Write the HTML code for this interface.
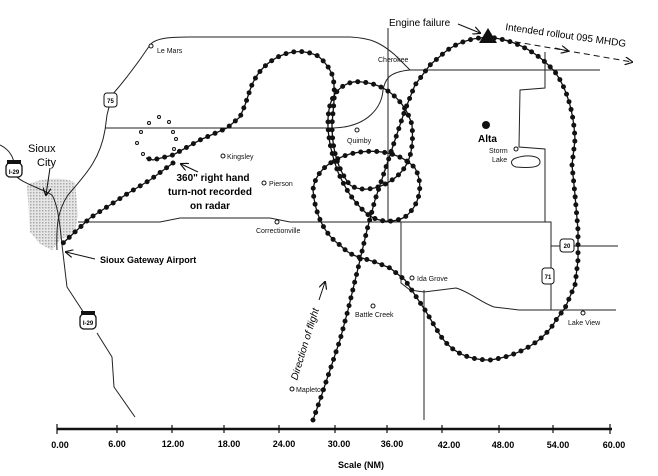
<!DOCTYPE html>
<html><head><meta charset="utf-8"><style>
html,body{margin:0;padding:0;background:#fff;}
svg{display:block;font-family:"Liberation Sans",sans-serif;}
.r{fill:none;stroke:#222;stroke-width:1;}
.p{fill:none;stroke:#111;stroke-width:1.3;}
.d{fill:none;stroke:#111;stroke-width:5;stroke-linecap:round;stroke-dasharray:0 8;}
.t{font-size:7px;fill:#111;}
.c{fill:#fff;stroke:#111;stroke-width:1;}
.b{font-weight:bold;}
</style></head><body>
<svg width="658" height="476" viewBox="0 0 658 476">
<defs>
<pattern id="g" width="3" height="3" patternUnits="userSpaceOnUse"><rect width="3" height="3" fill="#e6e6e6"/><rect width="1.5" height="1.5" fill="#aaa"/></pattern>
<marker id="a" markerWidth="8" markerHeight="8" refX="7" refY="4" orient="auto"><path d="M0,0 L8,4 L0,8" fill="none" stroke="#111" stroke-width="1.2"/></marker>
<path id="f1" fill="none" d="M313,420 L320,400 L330,370 L340,340 L348,310 L354,285 L360,260 L367,230 L375,200 L385,170 L395,140 L405,110 L415,85 L430,65 L445,52 C460,40 480,36 495,38 C520,42 540,55 555,72 C568,90 574,115 575,140 L572,165 L575,195 L578,230 L578,260 L575,285 L565,308 L556,320 C545,340 520,356 490,360 C465,360 450,350 440,335 L425,310 L415,295 L405,280 L390,268 L375,262 L362,258 C350,255 345,250 340,245 C325,235 315,215 313,190 C315,172 330,160 350,154 C375,148 400,152 415,168 C424,185 420,205 405,217 C392,224 375,222 365,212 C352,200 345,188 338,172 C330,150 325,125 330,105 C335,88 348,80 362,82 C385,84 405,100 412,125 C414,150 410,168 392,180 C378,190 360,192 350,185 C338,170 332,150 332,125 C333,108 336,95 333,77 C330,68 325,62 318,56 C305,50 293,50 280,56 C265,63 255,75 250,90 L245,105 L240,117 L227,128 L200,140 L173,155 L153,160 L146,158"/>
<path id="f2" fill="none" d="M173,163 L150,180 L130,192 L110,205 L90,218 L75,232 L62,244"/>
</defs>
<path d="M27,185 C40,178 60,176 75,182 L78,215 L75,232 L60,240 L52,250 L40,244 L30,232 Z" fill="url(#g)"/>
<path class="r" d="M150,45 C155,38 170,37 190,37 L350,37 C370,38 380,42 395,55 L408,68 L410,70 L600,70"/>
<path class="r" d="M150,45 C140,60 125,80 112,95 L107,115 L105,130 C100,160 85,175 68,195 C58,210 56,225 57,250"/>
<path class="r" d="M105,128 L333,128 C370,127 382,105 383,90 C385,80 388,72 410,70"/>
<path class="r" d="M388,28 L388,222"/>
<path class="r" d="M0,145 C10,150 14,158 14,165 M16,176 C22,183 40,188 52,195 C58,205 60,225 62,245 L67,287 L84,313 M97,333 L112,357 L114,387 L135,417"/>
<path class="r" d="M78,222 L160,222 L180,218 L270,218 L290,222 L540,222 L545,222"/>
<path class="r" d="M545,52 L545,88 L520,90 L519,147 L545,149 L545,222 L551,222 L551,310"/>
<path class="r" d="M401,222 L401,283 L410,290 L424,292 L456,288 C470,292 480,302 494,307 L519,310 L616,310"/>
<path class="r" d="M424,290 L424,420"/>
<path class="r" d="M551,246 L618,246"/>
<path class="r" d="M516,158 C528,154 540,156 540,162 C540,168 528,168 516,167 C510,165 510,160 516,158 Z"/>
<use href="#f1" class="p"/><use href="#f1" class="d"/>
<use href="#f2" class="p"/><use href="#f2" class="d"/>
<g class="c"><circle cx="149" cy="123" r="1.5"/><circle cx="159" cy="117" r="1.5"/><circle cx="169" cy="122" r="1.5"/><circle cx="141" cy="132" r="1.5"/><circle cx="173" cy="132" r="1.5"/><circle cx="137" cy="143" r="1.5"/><circle cx="176" cy="139" r="1.5"/><circle cx="174" cy="149" r="1.5"/><circle cx="143" cy="154" r="1.5"/>
<circle cx="151" cy="46" r="2"/><circle cx="223" cy="156" r="2"/><circle cx="264" cy="183" r="2"/><circle cx="277" cy="222" r="2"/><circle cx="357" cy="130" r="2"/><circle cx="516" cy="149" r="2"/><circle cx="412" cy="278" r="2"/><circle cx="373" cy="306" r="2"/><circle cx="583" cy="313" r="2"/><circle cx="292" cy="389" r="2"/></g>
<g font-size="6" text-anchor="middle" font-weight="bold">
<rect x="6" y="163" width="16" height="14" rx="4" fill="#fff" stroke="#111" stroke-width="1.3"/><rect x="7" y="160" width="14" height="4" fill="#111"/><text x="14" y="174">I-29</text>
<rect x="80" y="314" width="16" height="15" rx="4" fill="#fff" stroke="#111" stroke-width="1.3"/><rect x="81" y="311" width="14" height="4" fill="#111"/><text x="88" y="325">I-29</text>
<rect x="104" y="93" width="13" height="14" rx="3" fill="#fff" stroke="#111"/><text x="110.5" y="103">75</text>
<rect x="560" y="239" width="14" height="13" rx="3" fill="#fff" stroke="#111"/><text x="567" y="248">20</text>
<rect x="542" y="268" width="12" height="16" rx="3" fill="#fff" stroke="#111"/><text x="548" y="279">71</text>
</g>
<text class="t" x="157" y="53">Le Mars</text>
<text x="28" y="152" font-size="11">Sioux</text><text x="37" y="166" font-size="11">City</text>
<line x1="50" y1="168" x2="46" y2="195" stroke="#111" marker-end="url(#a)"/>
<text class="t" x="227" y="159">Kingsley</text>
<text class="t" x="269" y="186">Pierson</text>
<text class="t" x="256" y="233">Correctionville</text>
<text class="t" x="347" y="143">Quimby</text>
<text class="t" x="378" y="62">Cherokee</text>
<circle cx="486" cy="125" r="4" fill="#111"/>
<text x="478" y="142" font-size="10" class="b">Alta</text>
<text class="t" x="489" y="153">Storm</text><text class="t" x="492" y="162">Lake</text>
<text class="t" x="417" y="281">Ida Grove</text>
<text class="t" x="355" y="317">Battle Creek</text>
<text class="t" x="568" y="325">Lake View</text>
<text class="t" x="296" y="392">Mapleton</text>
<g font-size="10" font-weight="bold" text-anchor="middle"><text x="213" y="181">360" right hand</text><text x="210" y="195">turn-not  recorded</text><text x="210" y="209">on radar</text></g>
<line x1="198" y1="172" x2="181" y2="164" stroke="#111" marker-end="url(#a)"/>
<text x="100" y="263" font-size="9" font-weight="bold">Sioux Gateway Airport</text>
<line x1="95" y1="259" x2="66" y2="252" stroke="#111" marker-end="url(#a)"/>
<text x="389" y="26" font-size="10">Engine failure</text>
<line x1="458" y1="24" x2="480" y2="33" stroke="#111" marker-end="url(#a)"/>
<polygon points="488,28 479,43 497,43" fill="#111"/>
<text x="505" y="30" font-size="10" transform="rotate(8 505 30)">Intended rollout 095 MHDG</text>
<line x1="505" y1="40" x2="632" y2="62" stroke="#111" stroke-dasharray="6 4" marker-end="url(#a)"/>
<line x1="555" y1="48" x2="568" y2="51" stroke="#111" marker-end="url(#a)"/>
<text x="308" y="345" font-size="10" font-style="italic" text-anchor="middle" transform="rotate(-73 308 345)">Direction of flight</text>
<line x1="319" y1="300" x2="325" y2="282" stroke="#111" marker-end="url(#a)"/>
<line x1="57" y1="429" x2="612" y2="429" stroke="#111" stroke-width="2.5"/>
<g stroke="#111" stroke-width="1.2"><line x1="57" y1="424" x2="57" y2="434"/><line x1="117" y1="425" x2="117" y2="433"/><line x1="172" y1="425" x2="172" y2="433"/><line x1="224" y1="425" x2="224" y2="433"/><line x1="279" y1="425" x2="279" y2="433"/><line x1="335" y1="425" x2="335" y2="433"/><line x1="387" y1="425" x2="387" y2="433"/><line x1="442" y1="425" x2="442" y2="433"/><line x1="499" y1="425" x2="499" y2="433"/><line x1="553" y1="425" x2="553" y2="433"/><line x1="610" y1="424" x2="610" y2="434"/></g>
<g font-size="9" font-weight="bold" text-anchor="middle"><text x="60" y="448">0.00</text><text x="117" y="447">6.00</text><text x="173" y="447">12.00</text><text x="229" y="447">18.00</text><text x="284" y="447">24.00</text><text x="339" y="447">30.00</text><text x="392" y="447">36.00</text><text x="449" y="448">42.00</text><text x="503" y="448">48.00</text><text x="558" y="448">54.00</text><text x="614" y="448">60.00</text>
<text x="361" y="468">Scale  (NM)</text></g>
</svg>
</body></html>
